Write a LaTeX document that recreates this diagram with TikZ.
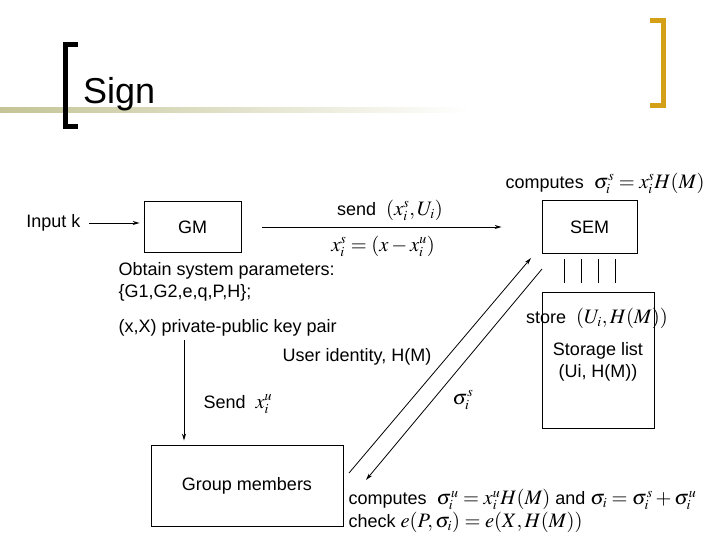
\documentclass[tikz,border=0pt]{standalone}
\usepackage{mathptmx}
\usepackage[no-math]{fontspec}
\setmainfont{Liberation Sans}
\usetikzlibrary{arrows.meta}
\DeclareMathSizes{18}{20.5}{14}{11}
\definecolor{titlegold}{RGB}{212,160,23}
\definecolor{titleolive}{RGB}{196,196,150}
\tikzset{
  box/.style={draw, line width=0.8pt, inner sep=0pt},
  arr/.style={-{Stealth[length=7pt,width=4pt]}, line width=0.8pt},
}
\begin{document}
\begin{tikzpicture}[x=1pt, y=-1pt, font=\fontsize{18}{22}\selectfont]

	\useasboundingbox (0,0) rectangle (720,540);

	% title bar
	\shade[left color=titleolive, right color=white] (0,108) rectangle (470,113);
	\draw[line width=5pt] (78,44.5) -- (65.5,44.5) -- (65.5,126.5) -- (78,126.5);
	\draw[titlegold, line width=5pt] (650,20.5) -- (663.5,20.5) -- (663.5,105.5) -- (650,105.5);
	\node[anchor=base west, inner sep=0pt, font=\fontsize{36}{40}\selectfont] (title) at (83,104) {Sign};

	% boxes
	\node[box, minimum width=97pt, minimum height=51pt] (gm) at (192.5,227) {GM};
	\node[box, minimum width=95pt, minimum height=53pt] (sem) at (589.5,227) {SEM};
	\node[box, minimum width=112pt, minimum height=136pt] (store) at (598,360) {};
	\node[box, minimum width=192pt, minimum height=81pt] (grp) at (247,485.5) {Group members};

	\node[anchor=east] (input) at (84,223) {Input k};
	\draw[arr, shorten <=5pt, shorten >=4pt] (input) -- (input -| gm.west);

	\draw[arr, shorten <=21pt, shorten >=40pt] (gm) -- (sem);
	\node (sendlbl) at (390,210) {send\ \ $(x_i^s, U_i)$};
	\node (xsrel) at (383,246) {$x_i^s = (x - x_i^u)$};
	\node[anchor=east] (semcomp) at (708,183) {computes\ \ $\sigma_i^s = x_i^s H(M)$};

	\foreach \d in {-25.5,-8.5,8.5,25.5}
	  \draw[line width=0.8pt] ([xshift=\d pt, yshift=-5pt]sem.south) -- ([xshift=\d pt, yshift=-29pt]sem.south);

	\node (storelbl) at (597,318) {store\ \ $(U_i, H(M))$};
	\node[align=center] (storelist) at (598,362) {Storage list\\(Ui, H(M))};

	% group manager side
	\node[anchor=west, align=left] (params) at (115,282) {Obtain system parameters:\\\{G1,G2,e,q,P,H\};};
	\node[anchor=west] (keypair) at (115,328) {(x,X) private-public key pair};
	\coordinate (down) at (184,340);
	\draw[arr, shorten >=4pt] (down) -- (down |- grp.north);
	\node[anchor=west] (sendxu) at (200,404) {Send\ \ $x_i^u$};

	\node (userid) at (357,357) {User identity, H(M)};
	\node (sigs) at (463,400) {$\sigma_i^s$};

	\coordinate (upfrom) at (349,473);
	\coordinate (upto) at (531,258);
	\coordinate (dnfrom) at (542,269);
	\coordinate (dnto) at (366,480);
	\draw[arr] (upfrom) -- (upto);
	\draw[arr] (dnfrom) -- (dnto);

	\node[anchor=west, align=left] (verify) at (345,511) {computes\ \ $\sigma_i^u = x_i^u H(M)$ and $\sigma_i = \sigma_i^s + \sigma_i^u$\\[1pt]check $e(P,\sigma_i) = e(X, H(M))$};

\end{tikzpicture}
\end{document}
